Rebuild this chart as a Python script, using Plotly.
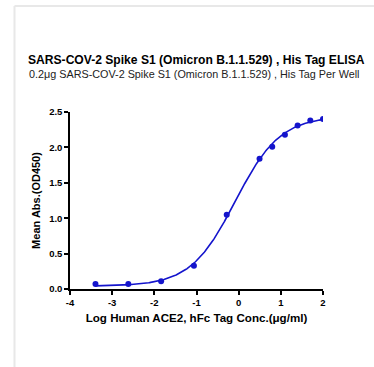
import numpy as np
import plotly.graph_objects as go

# Data
log_conc = [2.0, 1.699, 1.398, 1.097, 0.796, 0.495, -0.283, -1.061, -1.839, -2.617, -3.396]
od450 = [2.40, 2.38, 2.31, 2.18, 2.01, 1.84, 1.05, 0.33, 0.11, 0.07, 0.07]

x_ticks = [-4, -3, -2, -1, 0, 1, 2]
y_ticks = [0.0, 0.5, 1.0, 1.5, 2.0, 2.5]

title = "SARS-COV-2 Spike S1 (Omicron B.1.1.529) , His Tag ELISA"
subtitle = "0.2μg SARS-COV-2 Spike S1 (Omicron B.1.1.529) , His Tag Per Well"
x_title = "Log Human ACE2, hFc Tag Conc.(μg/ml)"
y_title = "Mean Abs.(OD450)"

# 4PL fit via grid search (least squares)
xd = np.array(log_conc)
yd = np.array(od450)
bottoms = np.linspace(0.0, 0.1, 11)
tops = np.linspace(2.3, 2.7, 41)
ec50s = np.linspace(-0.6, 0.4, 51)
hills = np.linspace(0.5, 1.6, 56)
B, T, E, H = np.meshgrid(bottoms, tops, ec50s, hills, indexing="ij")
pred = B[..., None] + (T - B)[..., None] / (1 + 10 ** ((E[..., None] - xd) * H[..., None]))
sse = ((pred - yd) ** 2).sum(axis=-1)
i = np.unravel_index(np.argmin(sse), sse.shape)
b, t, e, h = B[i], T[i], E[i], H[i]
xc = np.linspace(min(log_conc), max(log_conc), 300)
yc = b + (t - b) / (1 + 10 ** ((e - xc) * h))

blue = "#1414cc"
fig = go.Figure()
fig.add_trace(go.Scatter(x=xc, y=yc, mode="lines", line=dict(color=blue, width=1.6),
                         hoverinfo="skip", showlegend=False))
fig.add_trace(go.Scatter(x=log_conc, y=od450, mode="markers",
                         marker=dict(color=blue, size=6), showlegend=False))

W, H_ = 374, 367
L, R, T_, Bm = 70, 51, 112, 78
pw, ph = W - L - R, H_ - T_ - Bm

def px_x(p):
    return (p - L) / pw

def px_y(p):
    return (H_ - Bm - p) / ph

font = "Liberation Sans, Arial, sans-serif"
fig.update_layout(
    width=W, height=H_,
    margin=dict(l=L, r=R, t=T_, b=Bm, autoexpand=False),
    paper_bgcolor="white", plot_bgcolor="white",
    font=dict(family=font, color="black"),
    xaxis=dict(range=[-4, 2], tickvals=x_ticks, ticktext=[str(v) for v in x_ticks],
               showgrid=False, zeroline=False, showline=True, linecolor="black", linewidth=1.5,
               ticks="outside", ticklen=4, tickwidth=1.5, tickcolor="black",
               tickfont=dict(size=9.5, family=font, weight="bold"),
               title=dict(text="<b>" + x_title + "</b>", font=dict(size=11.6), standoff=7)),
    yaxis=dict(range=[0, 2.5], tickvals=y_ticks, ticktext=[f"{v:.1f}" for v in y_ticks],
               showgrid=False, zeroline=False, showline=True, linecolor="black", linewidth=1.5,
               ticks="outside", ticklen=4, tickwidth=1.5, tickcolor="black",
               tickfont=dict(size=9.5, family=font, weight="bold"),
               title=dict(text="<b>" + y_title + "</b>", font=dict(size=11), standoff=6)),
    annotations=[
        dict(text="<b>" + title + "</b>", xref="paper", yref="paper", x=px_x(196), y=px_y(60.5),
             showarrow=False, font=dict(size=12.1, family=font), xanchor="center", yanchor="middle"),
        dict(text=subtitle, xref="paper", yref="paper", x=px_x(194), y=px_y(74.5),
             showarrow=False, font=dict(size=10.8, family=font, color="#222222"), xanchor="center", yanchor="middle"),
    ],
    shapes=[
        dict(type="line", xref="paper", yref="paper", x0=px_x(14.5), x1=px_x(14.5), y0=px_y(6), y1=px_y(367),
             line=dict(color="#e8e8e8", width=2)),
        dict(type="line", xref="paper", yref="paper", x0=px_x(14.5), x1=px_x(374), y0=px_y(6), y1=px_y(6),
             line=dict(color="#e8e8e8", width=2)),
    ],
)

fig.write_html("out.html", config={"displayModeBar": False},
               post_script="document.body.style.margin='0';")
